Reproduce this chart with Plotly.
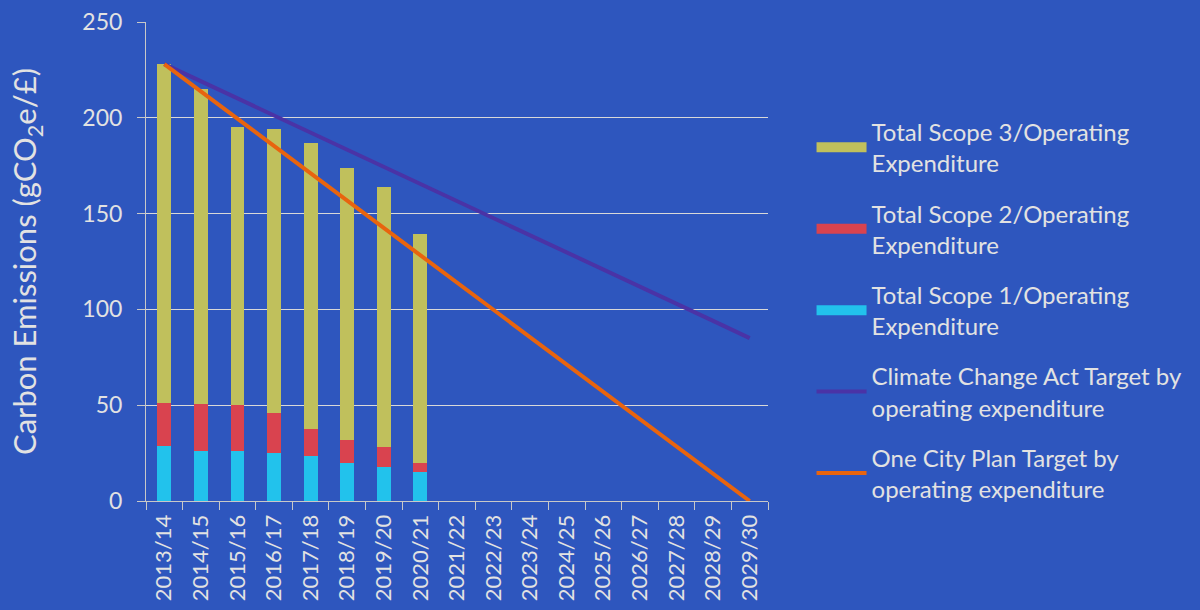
import plotly.graph_objects as go

years = ["2013/14", "2014/15", "2015/16", "2016/17", "2017/18", "2018/19",
         "2019/20", "2020/21", "2021/22", "2022/23", "2023/24", "2024/25",
         "2025/26", "2026/27", "2027/28", "2028/29", "2029/30"]

# Measured intensity per operating expenditure (gCO2e/£)
scope1 = [28.5, 26.0, 26.0, 25.0, 23.5, 20.0, 18.0, 15.0]
scope2 = [22.5, 24.5, 24.0, 21.0, 14.0, 12.0, 10.0, 5.0]
scope3 = [177.0, 164.5, 145.0, 148.0, 149.5, 142.0, 136.0, 119.5]

# Target trajectories
climate_act = [228.0, 219.1, 210.1, 201.2, 192.3, 183.3, 174.4, 165.4, 156.5,
               147.6, 138.6, 129.7, 120.8, 111.8, 102.9, 94.0, 85.0]
one_city = [228.0, 213.75, 199.5, 185.25, 171.0, 156.75, 142.5, 128.25, 114.0,
            99.75, 85.5, 71.25, 57.0, 42.75, 28.5, 14.25, 0.0]

bg = "#2E56BE"
txt = "#E2E2E2"
font = "Lato"

col_s1 = "#22C2EC"
col_s2 = "#D9434F"
col_s3 = "#C0C05C"
col_cca = "#4A33A6"
col_ocp = "#E8640E"

fig = go.Figure()
measured = years[:len(scope1)]
bar_w = 0.38
for vals, col in [(scope1, col_s1), (scope2, col_s2), (scope3, col_s3)]:
    fig.add_trace(go.Bar(x=measured, y=vals, marker=dict(color=col, line=dict(width=0)),
                         width=bar_w, showlegend=False))

fig.add_trace(go.Scatter(x=years, y=climate_act, mode="lines",
                         name="Climate Change Act Target by<br>operating expenditure",
                         line=dict(color=col_cca, width=4),
                         legendrank=4, legendgroup="g4"))
fig.add_trace(go.Scatter(x=years, y=one_city, mode="lines",
                         name="One City Plan Target by<br>operating expenditure",
                         line=dict(color=col_ocp, width=4),
                         legendrank=5, legendgroup="g5"))

# Wide swatches for the stacked-bar legend entries
for name, col, rank in [("Total Scope 3/Operating<br>Expenditure", col_s3, 1),
                        ("Total Scope 2/Operating<br>Expenditure", col_s2, 2),
                        ("Total Scope 1/Operating<br>Expenditure", col_s1, 3)]:
    fig.add_trace(go.Scatter(x=[None], y=[None], mode="lines", name=name,
                             line=dict(color=col, width=13),
                             legendrank=rank, legendgroup="g%d" % rank))

fig.update_layout(
    width=1200, height=610,
    paper_bgcolor=bg, plot_bgcolor=bg,
    barmode="stack",
    margin=dict(l=146, r=432, t=22, b=109),
    font=dict(family=font, color=txt, size=22),
    legend=dict(x=1.07, y=0.817, xanchor="left", yanchor="top",
                traceorder="grouped", tracegroupgap=16,
                font=dict(family=font, size=24, color=txt),
                bgcolor="rgba(0,0,0,0)", itemwidth=50),
    showlegend=True,
)
fig.update_xaxes(
    type="category", categoryorder="array", categoryarray=years,
    range=[-0.5, len(years) - 0.5], automargin=False,
    showline=True, linecolor="#C8C8C8", linewidth=1,
    ticks="outside", tickson="boundaries", ticklen=8, tickcolor="#C8C8C8",
    tickangle=-90, tickfont=dict(family=font, size=22, color=txt),
    ticklabelstandoff=4,
    showgrid=False,
)
fig.update_yaxes(
    range=[0, 250], dtick=50, automargin=False,
    showline=True, linecolor="#C8C8C8", linewidth=1,
    ticks="outside", ticklen=8, tickcolor="#C8C8C8",
    tickfont=dict(family=font, size=23, color=txt),
    ticklabelstandoff=10,
    showgrid=True, gridcolor="#D8D8D8", gridwidth=1,
    zeroline=False,
    title=dict(text="Carbon Emissions (gCO<sub>2</sub>e/£)",
               font=dict(family=font, size=31, color=txt), standoff=36),
)

fig.write_html("out.html")
